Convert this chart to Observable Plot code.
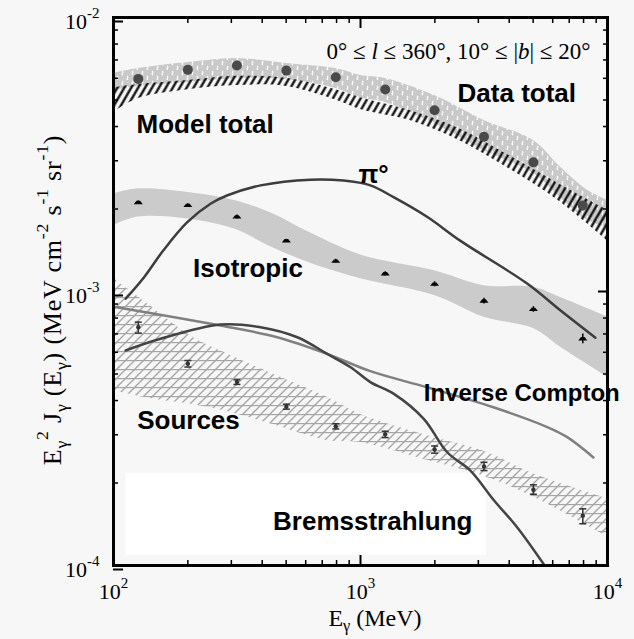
<!DOCTYPE html>
<html><head><meta charset="utf-8">
<script src="https://cdn.jsdelivr.net/npm/d3@7"></script>
<script src="https://cdn.jsdelivr.net/npm/@observablehq/plot@0.6"></script>
<style>
html,body{margin:0;padding:0;background:#f7f7f7;}
#chart{width:634px;height:639px;}
</style></head><body><div id="chart"></div>
<script>
// ---- data (E in MeV, E^2 J in MeV cm^-2 s^-1 sr^-1) ----
const dataE = [126, 200, 316, 501, 794, 1259, 1995, 3162, 5012, 7943];
const dataTotal = [5.97e-3, 6.44e-3, 6.68e-3, 6.40e-3, 6.05e-3, 5.46e-3, 4.59e-3, 3.67e-3, 2.96e-3, 2.06e-3];
const isoVal = [2.11e-3, 2.06e-3, 1.87e-3, 1.53e-3, 1.29e-3, 1.16e-3, 1.063e-3, 9.22e-4, 8.60e-4, 6.72e-4];
const isoErrLo = [2.08e-3, 2.03e-3, 1.84e-3, 1.51e-3, 1.27e-3, 1.14e-3, 1.04e-3, 9.0e-4, 8.4e-4, 6.45e-4];
const isoErrHi = [2.14e-3, 2.09e-3, 1.90e-3, 1.55e-3, 1.31e-3, 1.18e-3, 1.085e-3, 9.45e-4, 8.8e-4, 7.0e-4];
const srcVal = [7.41e-4, 5.45e-4, 4.67e-4, 3.80e-4, 3.22e-4, 3.01e-4, 2.65e-4, 2.30e-4, 1.89e-4, 1.52e-4];
const srcErrLo = [7.05e-4, 5.3e-4, 4.58e-4, 3.72e-4, 3.15e-4, 2.93e-4, 2.57e-4, 2.22e-4, 1.82e-4, 1.42e-4];
const srcErrHi = [7.73e-4, 5.6e-4, 4.76e-4, 3.88e-4, 3.29e-4, 3.09e-4, 2.73e-4, 2.38e-4, 1.97e-4, 1.61e-4];

const dataBandE = [100, 126, 200, 316, 501, 794, 1000, 1259, 1995, 3162, 5012, 6457, 8299, 10000];
const dataBandHi = [6.25e-3, 6.51e-3, 6.85e-3, 7.09e-3, 6.79e-3, 6.51e-3, 6.14e-3, 5.99e-3, 5.19e-3, 4.21e-3, 3.56e-3, 2.84e-3, 2.34e-3, 2.15e-3];
const dataBandLo = [5.42e-3, 5.60e-3, 5.79e-3, 5.99e-3, 5.94e-3, 5.51e-3, 5.10e-3, 4.90e-3, 4.10e-3, 3.27e-3, 2.70e-3, 2.20e-3, 1.82e-3, 1.71e-3];

const modelBandE = [100, 126, 200, 316, 501, 794, 1000, 1585, 2512, 3981, 6310, 10000];
const modelHi = [5.55e-3, 5.70e-3, 5.89e-3, 6.10e-3, 6.00e-3, 5.45e-3, 5.10e-3, 4.58e-3, 3.93e-3, 3.14e-3, 2.48e-3, 1.98e-3];
const modelLo = [4.50e-3, 5.06e-3, 5.45e-3, 5.65e-3, 5.60e-3, 5.00e-3, 4.62e-3, 4.21e-3, 3.56e-3, 2.81e-3, 2.15e-3, 1.53e-3];

const isoBandE = [100, 126, 200, 309, 437, 631, 1000, 1995, 3162, 5012, 6457, 10000];
const isoBandHi = [2.27e-3, 2.37e-3, 2.30e-3, 2.15e-3, 1.93e-3, 1.63e-3, 1.36e-3, 1.19e-3, 1.05e-3, 1.036e-3, 9.5e-4, 8.06e-4];
const isoBandLo = [1.74e-3, 1.87e-3, 1.84e-3, 1.69e-3, 1.45e-3, 1.265e-3, 1.113e-3, 9.67e-4, 8.06e-4, 7.33e-4, 6.26e-4, 4.87e-4];

const srcBandE = [100, 132, 158, 209, 269, 437, 733, 1000, 1862, 3236, 5012, 10000];
const srcBandHi = [1.116e-3, 9.27e-4, 8.17e-4, 6.81e-4, 6.09e-4, 5.02e-4, 4.11e-4, 3.56e-4, 2.98e-4, 2.59e-4, 2.16e-4, 1.75e-4];
const srcBandLo = [4.35e-4, 4.11e-4, 4.00e-4, 3.87e-4, 3.70e-4, 3.28e-4, 2.86e-4, 2.81e-4, 2.42e-4, 2.10e-4, 1.78e-4, 1.27e-4];

const pi0E = [112, 133, 159, 199, 247, 288, 394, 628, 853, 1096, 1361, 1866, 2541, 4742, 6457, 8933];
const pi0Val = [9.41e-4, 1.128e-3, 1.411e-3, 1.79e-3, 2.09e-3, 2.24e-3, 2.44e-3, 2.56e-3, 2.54e-3, 2.44e-3, 2.21e-3, 1.87e-3, 1.53e-3, 1.067e-3, 8.52e-4, 6.78e-4];
const icE = [100, 271, 460, 733, 1096, 1862, 3451, 5702, 6871, 8770];
const icVal = [8.8e-4, 7.51e-4, 6.81e-4, 5.92e-4, 5.12e-4, 4.47e-4, 3.78e-4, 3.20e-4, 2.94e-4, 2.48e-4];
const bremsE = [112, 155, 271, 394, 555, 733, 912, 1096, 1365, 1803, 2244, 2786, 3467, 4305, 5521];
const bremsVal = [6.09e-4, 6.72e-4, 7.58e-4, 7.41e-4, 6.81e-4, 5.92e-4, 5.29e-4, 4.67e-4, 4.23e-4, 3.43e-4, 2.59e-4, 2.22e-4, 1.73e-4, 1.38e-4, 1.01e-4];

const xMajor = [100, 1000, 10000];
const xMinor = [200, 300, 400, 500, 600, 700, 800, 900, 2000, 3000, 4000, 5000, 6000, 7000, 8000, 9000];
const yMajor = [1e-4, 1e-3, 1e-2];
const yMinor = [2e-4, 3e-4, 4e-4, 5e-4, 6e-4, 7e-4, 8e-4, 9e-4, 2e-3, 3e-3, 4e-3, 5e-3, 6e-3, 7e-3, 8e-3, 9e-3];

const labels = [
  {text: "Model total", x: 124, y: 3.78e-3},
  {text: "Data total", x: 2472, y: 4.91e-3},
  {text: "π°", x: 981, y: 2.48e-3},
  {text: "Isotropic", x: 210, y: 1.134e-3},
  {text: "Sources", x: 124.7, y: 3.15e-4},
  {text: "Bremsstrahlung", x: 442.6, y: 1.353e-4}
];
const icLabel = [{text: "Inverse Compton", x: 1803, y: 3.98e-4}];
const regionLabel = [{text: "REGION", x: 8531, y: 7.04e-3}];
const whiteBox = [{x1: 112.4, x2: 3236, y1: 1.09e-4, y2: 2.17e-4}];

// ---- build rows ----
const band = (E, lo, hi) => E.map((x, i) => ({x, lo: lo[i], hi: hi[i]}));
const series = (E, v) => E.map((x, i) => ({x, y: v[i]}));
const dataRows = series(dataE, dataTotal);
const isoRows = dataE.map((x, i) => ({x, y: isoVal[i], lo: isoErrLo[i], hi: isoErrHi[i]}));
const srcRows = dataE.map((x, i) => ({x, y: srcVal[i], lo: srcErrLo[i], hi: srcErrHi[i]}));

const capSym = {draw(ctx, size) { const r = Math.sqrt(size / Math.PI); ctx.moveTo(-r, 0); ctx.lineTo(r, 0); }};
const isoSym = {draw(ctx, size) { const r = Math.sqrt(size / Math.PI);
  ctx.moveTo(-r, r * 0.35); ctx.lineTo(r, r * 0.35); ctx.lineTo(r * 0.4, -r * 0.4); ctx.lineTo(-r * 0.4, -r * 0.4); ctx.closePath(); }};

const expFmt = d => `10^${Math.round(Math.log10(d))}`;
const blank = () => "";

const plot = Plot.plot({
  width: 634, height: 639,
  marginLeft: 113, marginRight: 27, marginTop: 17, marginBottom: 74,
  style: {background: "transparent", fontFamily: "Liberation Serif", overflow: "visible"},
  x: {type: "log", domain: [100, 10000], axis: null},
  y: {type: "log", domain: [1e-4, 1e-2], axis: null},
  marks: [
    Plot.rect(whiteBox, {x1: "x1", x2: "x2", y1: "y1", y2: "y2", fill: "white"}),
    Plot.areaY(band(dataBandE, dataBandLo, dataBandHi), {x: "x", y1: "lo", y2: "hi", fill: "url(#patData)", curve: "catmull-rom"}),
    Plot.areaY(band(modelBandE, modelLo, modelHi), {x: "x", y1: "lo", y2: "hi", fill: "url(#patModel)", curve: "catmull-rom"}),
    Plot.areaY(band(isoBandE, isoBandLo, isoBandHi), {x: "x", y1: "lo", y2: "hi", fill: "#cbcbcb", curve: "catmull-rom"}),
    Plot.areaY(band(srcBandE, srcBandLo, srcBandHi), {x: "x", y1: "lo", y2: "hi", fill: "url(#patSrc)", curve: "catmull-rom"}),
    Plot.line(series(pi0E, pi0Val), {x: "x", y: "y", stroke: "#3d3d3d", strokeWidth: 2.5, curve: "catmull-rom"}),
    Plot.line(series(icE, icVal), {x: "x", y: "y", stroke: "#808080", strokeWidth: 2.5, curve: "catmull-rom"}),
    Plot.line(series(bremsE, bremsVal), {x: "x", y: "y", stroke: "#444444", strokeWidth: 2.5, curve: "catmull-rom"}),
    Plot.dot(dataRows, {x: "x", y: "y", r: 5, fill: "#4a4a4a"}),
    Plot.ruleX(isoRows, {x: "x", y1: "lo", y2: "hi", stroke: "black", strokeWidth: 1.5}),
    Plot.dot(isoRows, {x: "x", y: "y", symbol: isoSym, r: 4.5, fill: "black"}),
    Plot.ruleX(srcRows, {x: "x", y1: "lo", y2: "hi", stroke: "#333", strokeWidth: 1.5}),
    Plot.dot(srcRows, {x: "x", y: "lo", symbol: capSym, r: 3.5, stroke: "#333", fill: "none", strokeWidth: 1.5}),
    Plot.dot(srcRows, {x: "x", y: "hi", symbol: capSym, r: 3.5, stroke: "#333", fill: "none", strokeWidth: 1.5}),
    Plot.dot(srcRows, {x: "x", y: "y", r: 2.2, fill: "#333"}),
    Plot.text(labels, {x: "x", y: "y", text: "text", textAnchor: "start", lineAnchor: "bottom", fontFamily: "Liberation Sans", fontWeight: "bold", fontSize: 26, fill: "black"}),
    Plot.text(icLabel, {x: "x", y: "y", text: "text", textAnchor: "start", lineAnchor: "bottom", fontFamily: "Liberation Sans", fontWeight: "bold", fontSize: 24, fill: "black"}),
    Plot.text(regionLabel, {x: "x", y: "y", text: "text", textAnchor: "end", lineAnchor: "bottom", fontFamily: "Liberation Serif", fontSize: 23, fill: "black"}),
    Plot.frame({stroke: "black", strokeWidth: 3}),
    Plot.axisX(xMajor, {anchor: "bottom", tickSize: -10, tickPadding: 27.5, tickFormat: expFmt, fontSize: 22, label: null, strokeWidth: 2}),
    Plot.axisX(xMinor, {anchor: "bottom", tickSize: -5, tickFormat: blank, label: null, strokeWidth: 1.5}),
    Plot.axisX(xMajor, {anchor: "top", tickSize: -10, tickFormat: blank, label: null, strokeWidth: 2}),
    Plot.axisX(xMinor, {anchor: "top", tickSize: -5, tickFormat: blank, label: null, strokeWidth: 1.5}),
    Plot.axisY(yMajor, {anchor: "left", tickSize: -10, tickPadding: 24, dy: 4, tickFormat: expFmt, fontSize: 22, label: null, strokeWidth: 2}),
    Plot.axisY(yMinor, {anchor: "left", tickSize: -5, tickFormat: blank, label: null, strokeWidth: 1.5}),
    Plot.axisY(yMajor, {anchor: "right", tickSize: -10, tickFormat: blank, label: null, strokeWidth: 2}),
    Plot.axisY(yMinor, {anchor: "right", tickSize: -5, tickFormat: blank, label: null, strokeWidth: 1.5})
  ]
});

// ---- patterns ----
const NS = "http://www.w3.org/2000/svg";
const defs = document.createElementNS(NS, "defs");
defs.innerHTML = `
<pattern id="patData" patternUnits="userSpaceOnUse" width="10" height="10">
  <rect width="10" height="10" fill="#c9c9c9"/>
  <path d="M2,1 q1.5,1 0.5,2 q-1,1 0.5,2 M7,6 q1.5,1 0.5,2 q-1,1 0.5,2" stroke="white" stroke-width="1.1" fill="none"/>
</pattern>
<pattern id="patModel" patternUnits="userSpaceOnUse" width="6" height="8" patternTransform="rotate(30)">
  <line x1="1.5" y1="0" x2="1.5" y2="8" stroke="black" stroke-width="2.2"/>
</pattern>
<pattern id="patSrc" patternUnits="userSpaceOnUse" width="9" height="9">
  <path d="M0,9 L9,0 M-1,1 L1,-1 M8,10 L10,8" stroke="#a6a6a6" stroke-width="1.4"/>
  <path d="M0,0.6 H9" stroke="#a6a6a6" stroke-width="1.2"/>
</pattern>`;
plot.insertBefore(defs, plot.firstChild);

// ---- rich text helper (sub/superscripts, italics) ----
function rich(el, parts, size) {
  el.textContent = "";
  let shift = 0;
  for (const [s, t] of parts) {
    const ts = document.createElementNS(NS, "tspan");
    let target = 0;
    if (t === "sup") { ts.setAttribute("font-size", (size * 0.68).toFixed(1)); target = -size * 0.5; }
    else if (t === "sub") { ts.setAttribute("font-size", (size * 0.68).toFixed(1)); target = size * 0.22; }
    else if (t === "it") ts.setAttribute("font-style", "italic");
    const dy = target - shift;
    if (dy) ts.setAttribute("dy", dy.toFixed(2));
    shift = target;
    ts.textContent = s;
    el.appendChild(ts);
  }
}
for (const el of Array.from(plot.querySelectorAll("text"))) {
  const txt = el.textContent.trim();
  const m = /^10\^(-?\d+)$/.exec(txt);
  if (m) rich(el, [["10", "n"], [m[1], "sup"]], 22);
  else if (txt === "REGION") rich(el, [["0° ≤ ", "n"], ["l", "it"], [" ≤ 360°, 10° ≤ |", "n"], ["b", "it"], ["| ≤ 20°", "n"]], 23);
}

// axis titles
function addTitle(parts, size, transform, spacing) {
  const t = document.createElementNS(NS, "text");
  t.setAttribute("transform", transform);
  t.setAttribute("text-anchor", "middle");
  t.setAttribute("font-family", "Liberation Serif");
  t.setAttribute("font-size", size);
  t.setAttribute("fill", "black");
  if (spacing) t.setAttribute("letter-spacing", spacing);
  rich(t, parts, size);
  plot.appendChild(t);
}
addTitle([["E", "n"], ["γ", "sub"], [" (MeV)", "n"]], 24, "translate(375,626)");
addTitle([["E", "n"], ["γ", "sub"], ["2", "sup"], [" J", "n"], ["γ", "sub"], [" (E", "n"], ["γ", "sub"], [") (MeV cm", "n"], ["-2", "sup"], [" s", "n"], ["-1", "sup"], [" sr", "n"], ["-1", "sup"], [")", "n"]], 26, "translate(61,300) rotate(-90)", 0.8);

document.getElementById("chart").appendChild(plot);
</script></body></html>
